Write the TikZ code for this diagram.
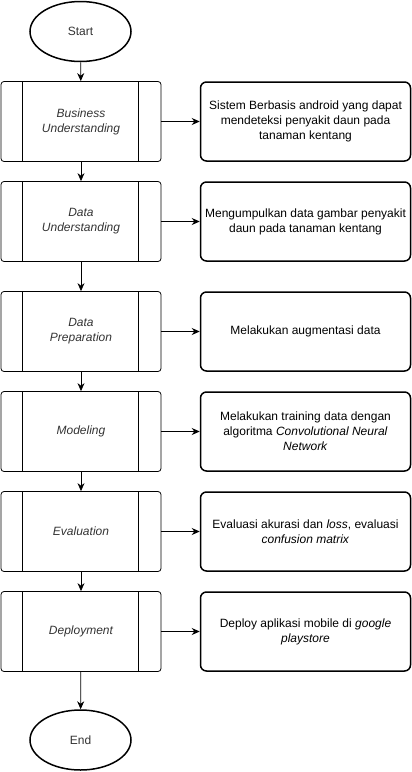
\documentclass[tikz,border=0pt]{standalone}
\usepackage{fontspec}
\setmainfont{Liberation Sans}
\usepackage{tikz}
\usetikzlibrary{shapes.geometric, arrows.meta, positioning}
\definecolor{labelgray}{RGB}{51,51,51}
\tikzset{
    terminal/.style={ellipse, draw, line width=1.5pt, minimum width=101pt, minimum height=60pt, text centered, text=labelgray},
    phase/.style={rectangle, rounded corners=3pt, draw, line width=0.8pt, minimum width=160pt, minimum height=80pt, align=center, text=labelgray, font=\fontsize{12}{15}\selectfont\itshape,
        path picture={
            \draw[line width=0.8pt] ([xshift=21pt]path picture bounding box.north west) -- ([xshift=21pt]path picture bounding box.south west);
            \draw[line width=0.8pt] ([xshift=-23pt]path picture bounding box.north east) -- ([xshift=-23pt]path picture bounding box.south east);
        }},
    desc/.style={rectangle, rounded corners=6pt, draw, line width=1.5pt, minimum width=210pt, minimum height=79pt, align=center},
    flow/.style={-{Stealth[length=8pt, width=7pt]}, line width=0.8pt}
}

\begin{document}
\begin{tikzpicture}[x=1pt, y=-1pt, font=\fontsize{12}{15}\selectfont]
    \useasboundingbox (0,0) rectangle (412,772);

    % Start / End
    \node[terminal] (start) at (80.5,31.5) {Start};
    \node[terminal] (end) at (80.5,740) {End};

    % CRISP-DM phases
    \node[phase] (business) at (81,121.5) {Business\\ Understanding};
    \node[phase] (understanding) at (81,221.5) {Data\\ Understanding};
    \node[phase] (preparation) at (81,331.5) {Data\\ Preparation};
    \node[phase] (modeling) at (81,431.5) {Modeling};
    \node[phase] (evaluation) at (81,531.5) {Evaluation};
    \node[phase] (deployment) at (81,631.5) {Deployment};

    % Descriptions
    \node[desc] (business_desc) at (305.5,121.5) {Sistem Berbasis android yang dapat\\ mendeteksi penyakit daun pada\\ tanaman kentang};
    \node[desc] (understanding_desc) at (305.5,221.5) {Mengumpulkan data gambar penyakit\\ daun pada tanaman kentang};
    \node[desc] (preparation_desc) at (305.5,331.5) {Melakukan augmentasi data};
    \node[desc] (modeling_desc) at (305.5,431.5) {Melakukan training data dengan\\ algoritma \textit{Convolutional Neural}\\ \textit{Network}};
    \node[desc] (evaluation_desc) at (305.5,531.5) {Evaluasi akurasi dan \textit{loss}, evaluasi\\ \textit{confusion matrix}};
    \node[desc] (deployment_desc) at (305.5,631.5) {Deploy aplikasi mobile di \textit{google}\\ \textit{playstore}};

    % Main flow
    \draw[flow] (start) -- (business);
    \draw[flow] (business) -- (understanding);
    \draw[flow] (understanding) -- (preparation);
    \draw[flow] (preparation) -- (modeling);
    \draw[flow] (modeling) -- (evaluation);
    \draw[flow] (evaluation) -- (deployment);
    \draw[flow] (deployment) -- (end);

    % Phase descriptions
    \draw[flow] (business) -- (business_desc);
    \draw[flow] (understanding) -- (understanding_desc);
    \draw[flow] (preparation) -- (preparation_desc);
    \draw[flow] (modeling) -- (modeling_desc);
    \draw[flow] (evaluation) -- (evaluation_desc);
    \draw[flow] (deployment) -- (deployment_desc);
\end{tikzpicture}
\end{document}
